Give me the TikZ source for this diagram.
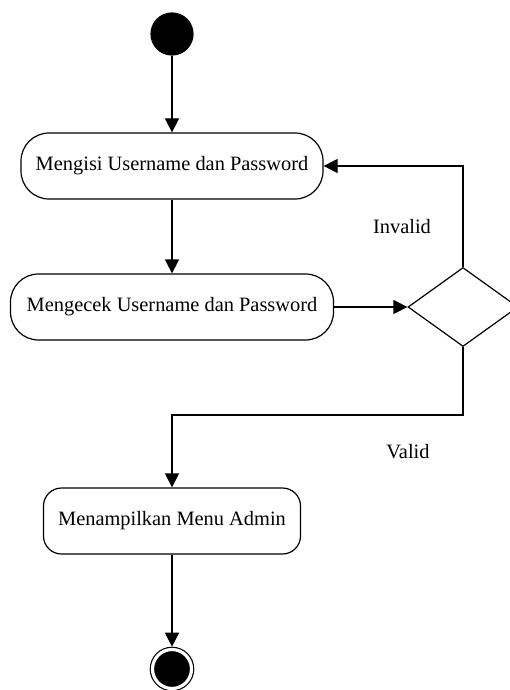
\documentclass[tikz,border=0pt]{standalone}
\usepackage{fontspec}
\setmainfont{Liberation Serif}
\usetikzlibrary{arrows.meta}
\usetikzlibrary{shapes.geometric}

\newcommand{\mytikzunit}{0.5pt}
\newcommand{\mytikzactfontsize}{\fontsize{10.2}{12}\selectfont}
\tikzstyle{activity}=[
    draw,
    rectangle,
    rounded corners=14pt,
    minimum height=33pt,
    inner sep=0pt,
    font=\mytikzactfontsize
]
\tikzstyle{startstate}=[
    draw,circle,fill=black,
    minimum size=21pt,
    inner sep=0pt
]
\tikzstyle{endstate}=[
    draw,circle,fill=black,
    double=white,double distance=1.6pt,
    minimum size=19.5pt,
    inner sep=0pt,
    outer sep=1.4pt
]
\tikzstyle{decision}=[
    draw,diamond,
    minimum width=55pt,
    minimum height=39.5pt,
    inner sep=0pt
]
\tikzstyle{guard}=[
    draw=none,
    font=\mytikzactfontsize
]
\tikzstyle{myactivityoptions}=[
    x=\mytikzunit,y=\mytikzunit,
    line width=0.6pt,
    >={Triangle[length=7pt,width=7pt]}
]

\begin{document}
\begin{tikzpicture}[myactivityoptions]
    \useasboundingbox (0,0) rectangle (509,-690);

    % nodes
    \node[startstate] (mulai) at (172,-34) {};
    \node[activity,minimum width=151pt] (mengisi) at (172,-166) {Mengisi Username dan Password};
    \node[activity,minimum width=161.5pt] (mengecek) at (172,-307) {Mengecek Username dan Password};
    \node[decision] (cek) at (463,-307) {};
    \node[activity,minimum width=128.5pt,rounded corners=9pt] (tampil) at (172,-521) {Menampilkan Menu Admin};
    \node[endstate] (akhir) at (172,-669) {};

    \node[guard] (invalid) at (402,-227) {Invalid};
    \node[guard] (valid) at (408,-452) {Valid};

    \coordinate (belok) at (463,-415);

    % edges
    \draw[->] (mulai) -- (mengisi);
    \draw[->] (mengisi) -- (mengecek);
    \draw[->] (mengecek) -- (cek);
    \draw[->] (cek.north) |- (mengisi.east);
    \draw[->] (cek.south) -- (belok) -| (tampil.north);
    \draw[->] (tampil) -- (akhir);
\end{tikzpicture}
\end{document}
